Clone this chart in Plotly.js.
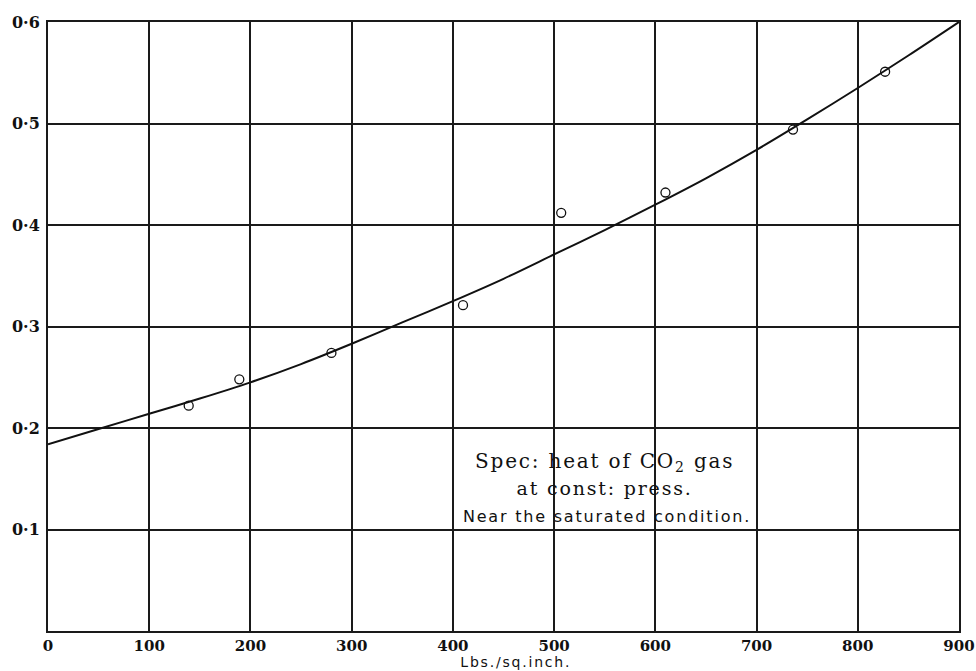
<!DOCTYPE html>
<html>
<head>
<meta charset="utf-8">
<script src="https://cdn.plot.ly/plotly-3.0.1.min.js"></script>
<style>
html,body{margin:0;padding:0;background:#fff;}
#chart{width:976px;height:671px;}
.annotation-text-g text{letter-spacing:1.8px;}
</style>
</head>
<body>
<div id="chart"></div>
<script>
// Observed points (pressure in lbs/sq.inch, specific heat)
const obsPressure = [139, 189, 280, 410, 507, 610, 736, 827];
const obsHeat     = [0.222, 0.248, 0.274, 0.321, 0.412, 0.432, 0.494, 0.551];

// Fitted smooth curve
const curvePressure = [0, 50, 100, 150, 200, 250, 300, 350, 400, 450, 500, 550, 600, 650, 700, 750, 800, 850, 900];
const curveHeat     = [0.184, 0.199, 0.214, 0.229, 0.245, 0.263, 0.283, 0.304, 0.325, 0.347, 0.371, 0.395, 0.420, 0.446, 0.474, 0.504, 0.535, 0.567, 0.600];

const xTickVals = [0, 100, 200, 300, 400, 500, 600, 700, 800, 900];
const xTickText = ['0', '100', '200', '300', '400', '500', '600', '700', '800', '900'];
const yTickVals = [0.1, 0.2, 0.3, 0.4, 0.5, 0.6];
const yTickText = ['0·1', '0·2', '0·3', '0·4', '0·5', '0·6'];

const xTitle = 'Lbs./sq.inch.';
const noteLines = ['Spec: heat of CO<sub>2</sub> gas', 'at const: press.', 'Near the saturated condition.'];

const traces = [
  {
    x: curvePressure, y: curveHeat, type: 'scatter', mode: 'lines',
    line: {color: '#111', width: 2, shape: 'spline', smoothing: 0.8},
    hoverinfo: 'skip', showlegend: false
  },
  {
    x: obsPressure, y: obsHeat, type: 'scatter', mode: 'markers',
    marker: {symbol: 'circle-open', size: 9, color: '#111', line: {width: 1.3, color: '#111'}},
    showlegend: false
  }
];

const tickFont = {family: 'DejaVu Serif', size: 15, color: '#111', weight: 'bold'};

const layout = {
  width: 976, height: 671,
  margin: {l: 48, r: 17, t: 22, b: 40},
  paper_bgcolor: '#fff', plot_bgcolor: '#fff',
  showlegend: false,
  xaxis: {
    range: [0, 900], tickvals: xTickVals, ticktext: xTickText,
    showgrid: true, gridcolor: '#1a1a1a', gridwidth: 2,
    showline: true, linecolor: '#1a1a1a', linewidth: 2, mirror: true,
    zeroline: false, ticks: '', ticklabelstandoff: 0, ticklabeloverflow: 'allow',
    tickfont: tickFont
  },
  yaxis: {
    range: [0, 0.6], tickvals: yTickVals, ticktext: yTickText,
    showgrid: true, gridcolor: '#1a1a1a', gridwidth: 2,
    showline: true, linecolor: '#1a1a1a', linewidth: 2, mirror: true,
    zeroline: false, ticks: '', ticklabelstandoff: 3, ticklabeloverflow: 'allow',
    tickfont: {family: 'DejaVu Serif', size: 16, color: '#111', weight: 'bold'}
  },
  annotations: [
    {text: xTitle, xref: 'paper', yref: 'paper', x: 0.514, y: 0, yshift: -31, xanchor: 'center', yanchor: 'middle',
     showarrow: false, font: {family: 'DejaVu Sans', size: 14, color: '#111'}},
    {text: noteLines[0], xref: 'x', yref: 'y', x: 550, y: 0.1665, xanchor: 'center', yanchor: 'middle',
     showarrow: false, font: {family: 'DejaVu Serif', size: 20, color: '#111'}},
    {text: noteLines[1], xref: 'x', yref: 'y', x: 550, y: 0.141, xanchor: 'center', yanchor: 'middle',
     showarrow: false, font: {family: 'DejaVu Serif', size: 19, color: '#111'}},
    {text: noteLines[2], xref: 'x', yref: 'y', x: 552, y: 0.113, xanchor: 'center', yanchor: 'middle',
     showarrow: false, font: {family: 'DejaVu Sans', size: 16, color: '#111'}}
  ]
};

Plotly.newPlot('chart', traces, layout, {displayModeBar: false, staticPlot: true});
</script>
</body>
</html>
